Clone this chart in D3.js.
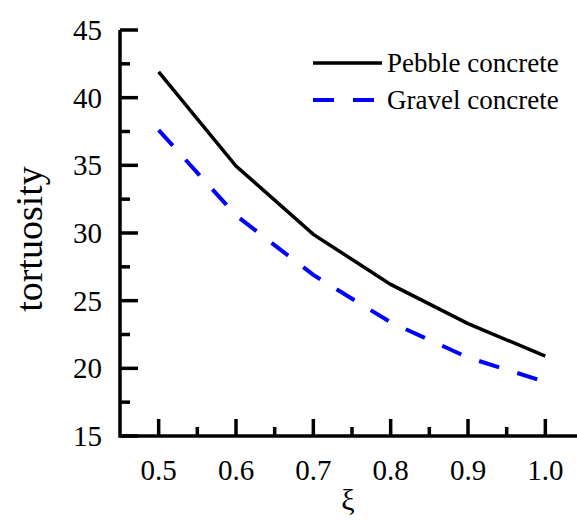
<!DOCTYPE html>
<html>
<head>
<meta charset="utf-8">
<script src="https://cdn.jsdelivr.net/npm/d3@7"></script>
</head>
<body style="margin:0; background:#fff">
<svg id="plot" width="577" height="521" style="font-family: 'Times New Roman', 'Liberation Serif', Times, serif"></svg>
<script>
// values
const xi = [0.5, 0.6, 0.7, 0.8, 0.9, 1.0];
const pebble = [41.9, 34.95, 29.9, 26.2, 23.3, 20.9];
const gravel = [37.6, 31.3, 26.9, 23.4, 20.8, 19.0];
const xTicks = [0.5, 0.6, 0.7, 0.8, 0.9, 1.0];
const xMinor = [0.55, 0.65, 0.75, 0.85, 0.95];
const yTicks = [15, 20, 25, 30, 35, 40, 45];
const yMinor = [17.5, 22.5, 27.5, 32.5, 37.5, 42.5];
const seriesNames = ["Pebble concrete", "Gravel concrete"];

const font = "Times New Roman, Liberation Serif, Times, serif";
const svg = d3.select("#plot");

// plot box: left axis at x=120, bottom axis at y=436
const x = d3.scaleLinear().domain([0.45, 1.05]).range([120, 584]);
const y = d3.scaleLinear().domain([15, 45]).range([436, 30]);

// axes drawn by hand so ticks point inward like the original
const axis = svg.append("g").attr("stroke", "#000").attr("stroke-width", 3.5);
axis.append("line").attr("x1", x(0.45)).attr("x2", 577)
  .attr("y1", y(15)).attr("y2", y(15));
axis.append("line").attr("x1", x(0.45)).attr("x2", x(0.45))
  .attr("y1", y(15) + 1.75).attr("y2", y(45));

axis.selectAll(".xmaj").data(xTicks).enter().append("line")
  .attr("x1", d => x(d)).attr("x2", d => x(d))
  .attr("y1", y(15)).attr("y2", y(15) - 17);
axis.selectAll(".xmin").data(xMinor).enter().append("line")
  .attr("x1", d => x(d)).attr("x2", d => x(d))
  .attr("y1", y(15)).attr("y2", y(15) - 9);
axis.selectAll(".ymaj").data(yTicks).enter().append("line")
  .attr("x1", x(0.45)).attr("x2", x(0.45) + 18)
  .attr("y1", d => y(d)).attr("y2", d => y(d));
axis.selectAll(".ymin").data(yMinor).enter().append("line")
  .attr("x1", x(0.45)).attr("x2", x(0.45) + 10)
  .attr("y1", d => y(d)).attr("y2", d => y(d));

// tick labels
svg.selectAll(".xlab").data(xTicks).enter().append("text")
  .attr("x", d => x(d)).attr("y", 480)
  .attr("text-anchor", "middle")
  .style("font-family", font).style("font-size", "29px")
  .text(d => d.toFixed(1));
svg.selectAll(".ylab").data(yTicks).enter().append("text")
  .attr("x", 102).attr("y", d => y(d) + 10)
  .attr("text-anchor", "end")
  .style("font-family", font).style("font-size", "29px")
  .text(d => d);

// axis titles
svg.append("text")
  .attr("transform", `translate(42,${(y(15) + y(45)) / 2 + 6}) rotate(-90)`)
  .attr("text-anchor", "middle")
  .style("font-family", font).style("font-size", "38px")
  .text("tortuosity");
svg.append("text")
  .attr("x", x(0.75) - 4).attr("y", 510)
  .attr("text-anchor", "middle")
  .style("font-family", font).style("font-size", "30px")
  .text("ξ");

// series lines
const line = d3.line().x(d => x(d[0])).y(d => y(d[1]));
svg.append("path").datum(d3.zip(xi, pebble))
  .attr("d", line).attr("fill", "none")
  .attr("stroke", "#000").attr("stroke-width", 3.5);
svg.append("path").datum(d3.zip(xi, gravel))
  .attr("d", line).attr("fill", "none")
  .attr("stroke", "#0000ff").attr("stroke-width", 4)
  .attr("stroke-dasharray", "21,19");

// legend
const legend = svg.append("g");
legend.append("line").attr("x1", 313).attr("x2", 382).attr("y1", 63).attr("y2", 63)
  .attr("stroke", "#000").attr("stroke-width", 3.5);
legend.append("line").attr("x1", 313).attr("x2", 382).attr("y1", 100).attr("y2", 100)
  .attr("stroke", "#0000ff").attr("stroke-width", 4)
  .attr("stroke-dasharray", "21,19");
legend.selectAll(".ltext").data(seriesNames).enter().append("text")
  .attr("x", 387).attr("y", (d, i) => 72 + i * 37)
  .style("font-family", font).style("font-size", "27px")
  .text(d => d);
</script>
</body>
</html>
